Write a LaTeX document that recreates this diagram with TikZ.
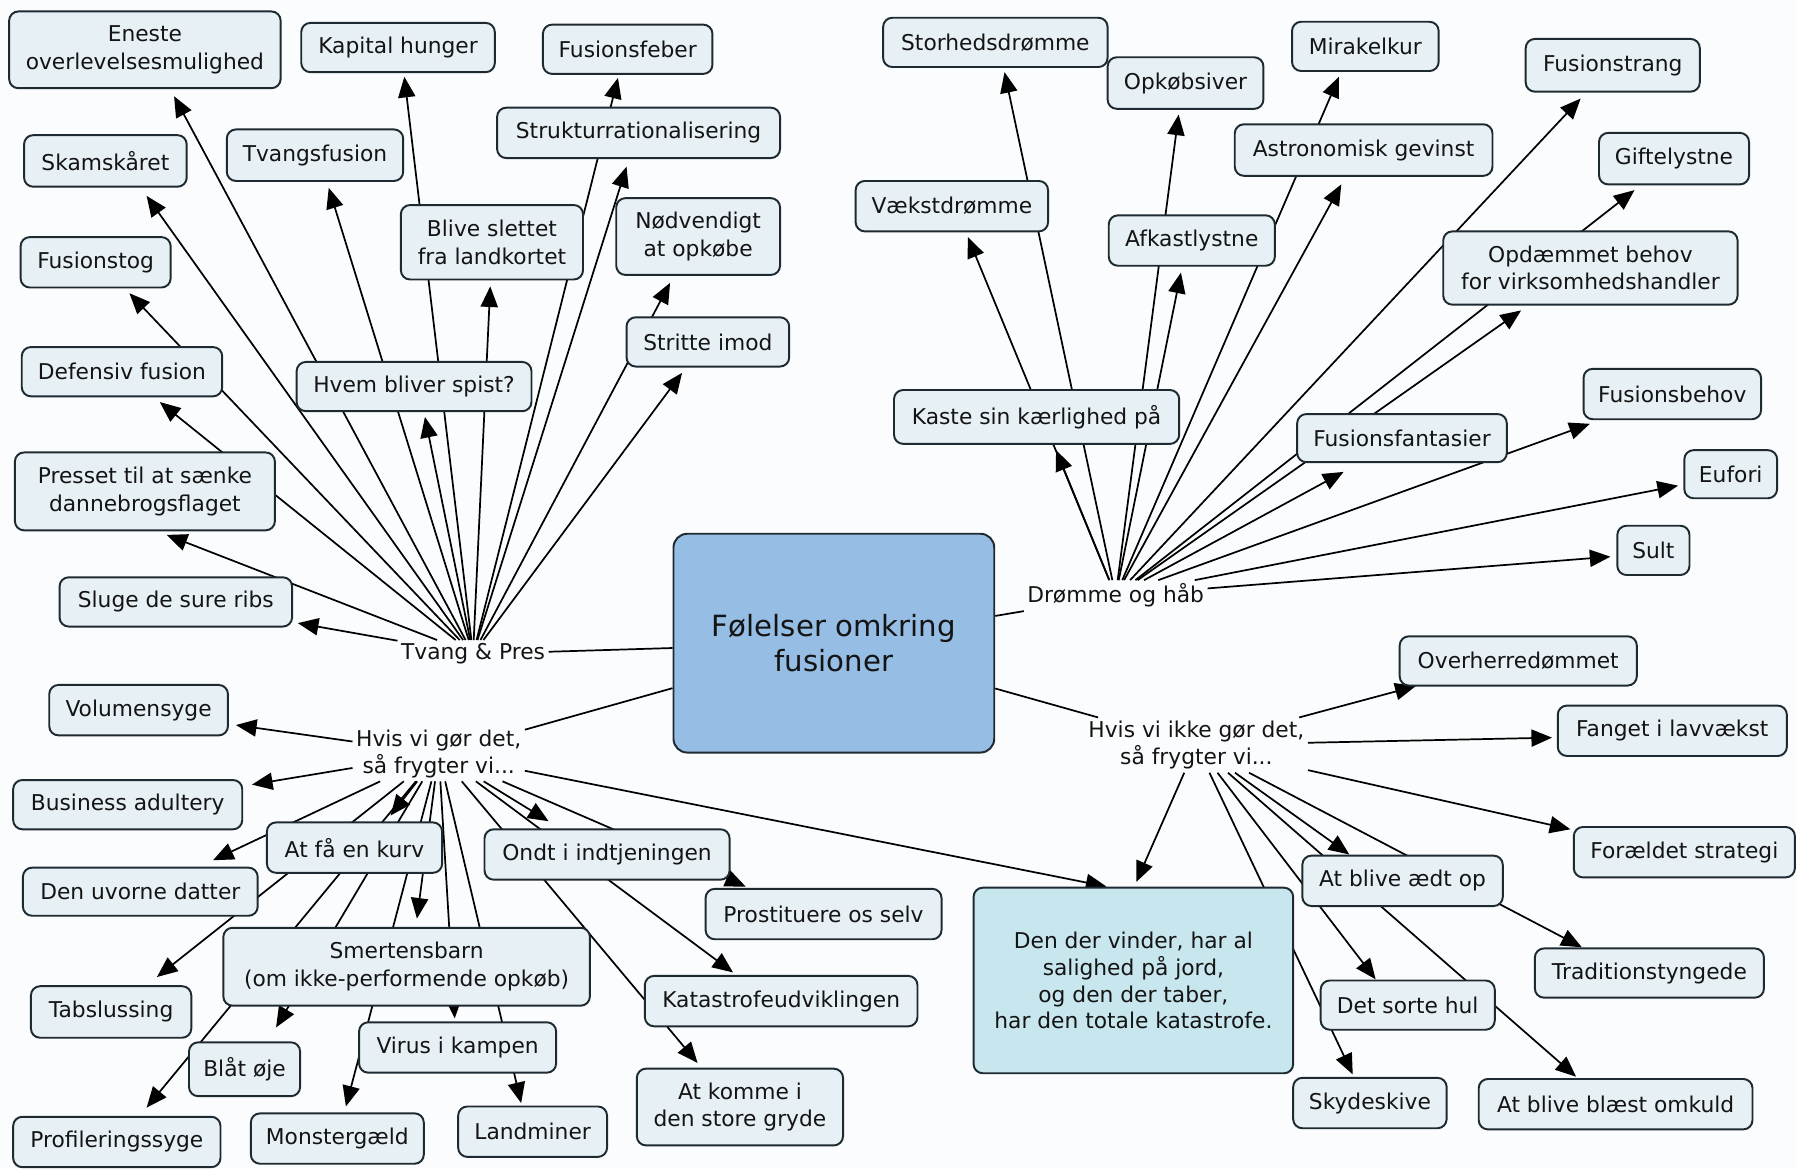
\documentclass[tikz,border=0pt]{standalone}
\usepackage{fontspec}
\setmainfont{DejaVu Sans}
\usetikzlibrary{arrows.meta,calc}
\definecolor{boxfill}{RGB}{231,240,245}
\definecolor{boxline}{RGB}{30,42,50}
\definecolor{centerfill}{RGB}{150,189,228}
\definecolor{ddvfill}{RGB}{199,230,237}
\definecolor{bgcol}{RGB}{251,252,253}
\definecolor{txt}{RGB}{20,20,20}
\pgfdeclarelayer{edgelayer}
\pgfsetlayers{edgelayer,main}
\newcommand\mkbox[6]{\node[concept, minimum width=#4pt, minimum height=#5pt] (#1) at (#2,#3) {#6};}
\newcommand\fanarrow[4]{\draw[arr] (#1) -- ($(#2)+(#3,#4)$);}
\begin{document}
\begin{tikzpicture}[x=1pt,y=-1pt,
  concept/.style={draw=boxline, line width=1.7pt, fill=boxfill, rounded corners=8pt, align=center, text=txt, font=\fontsize{19}{24}\selectfont, inner sep=2pt},
  lbl/.style={align=center, text=txt, font=\fontsize{19}{23.5}\selectfont, inner sep=3pt},
  link/.style={draw=black, line width=1.5pt},
  arr/.style={link, -{Triangle[length=18pt,width=15pt]}},
]
\useasboundingbox (0,0) rectangle (1568,1020);

% central concept
\node[concept, fill=centerfill, rounded corners=12pt, minimum width=280pt, minimum height=191pt, font=\fontsize{25.5}{31}\selectfont] (center) at (728,561.5) {Følelser omkring\\fusioner};

% linking phrases
\node[lbl] (tvang) at (413,571) {Tvang \& Pres};
\node[lbl] (dromme) at (974,520) {Drømme og håb};
\node[lbl] (hvis) at (383,658) {Hvis vi gør det,\\så frygter vi...};
\node[lbl] (ikke) at (1044.5,650.5) {Hvis vi ikke gør det,\\så frygter vi...};

% top-left
\mkbox{eneste}{126.5}{43.5}{237}{67}{Eneste\\overlevelsesmulighed}
\mkbox{kapital}{347.5}{41.5}{169}{43}{Kapital hunger}
\mkbox{ffeber}{548}{43}{148}{43}{Fusionsfeber}
\mkbox{skam}{92}{140.5}{142}{45}{Skamskåret}
\mkbox{tvfus}{275}{135.5}{154}{45}{Tvangsfusion}
\mkbox{struktur}{557.5}{116}{247}{44}{Strukturrationalisering}
\mkbox{blive}{429.5}{211.5}{159}{65}{Blive slettet\\fra landkortet}
\mkbox{nodv}{609.5}{206.5}{143}{67}{Nødvendigt\\at opkøbe}
\mkbox{fstog}{83.5}{229}{131}{44}{Fusionstog}
\mkbox{stritte}{618}{298.5}{142}{43}{Stritte imod}
\mkbox{defensiv}{106.5}{324.5}{175}{43}{Defensiv fusion}
\mkbox{hvem}{361.5}{337.5}{205}{43}{Hvem bliver spist?}
\mkbox{presset}{126.5}{429}{227}{68}{Presset til at sænke\\dannebrogsflaget}
\mkbox{sluge}{153.5}{525.5}{203}{43}{Sluge de sure ribs}

% bottom-left
\mkbox{volumen}{121}{620}{156}{44}{Volumensyge}
\mkbox{business}{111.5}{702.5}{200}{43}{Business adultery}
\mkbox{kurv}{309.5}{740}{153}{44}{At få en kurv}
\mkbox{ondt}{530}{746}{214}{44}{Ondt i indtjeningen}
\mkbox{datter}{122.5}{778.5}{205}{42}{Den uvorne datter}
\mkbox{prostit}{719}{798}{206}{44}{Prostituere os selv}
\mkbox{smertens}{355}{844}{320}{68}{Smertensbarn\\(om ikke-performende opkøb)}
\mkbox{katastrofe}{682}{874}{238}{44}{Katastrofeudviklingen}
\mkbox{tabsl}{97}{883.5}{140}{45}{Tabslussing}
\mkbox{virus}{399.5}{914.5}{172}{44}{Virus i kampen}
\mkbox{blaat}{213.5}{933.5}{97}{47}{Blåt øje}
\mkbox{gryde}{646}{966.5}{180}{67}{At komme i\\den store gryde}
\mkbox{landminer}{465}{988}{130}{44}{Landminer}
\mkbox{monster}{294.5}{994}{151}{44}{Monstergæld}
\mkbox{profil}{102}{997}{181}{44}{Profileringssyge}

% top-right
\mkbox{storheds}{869}{37}{196}{43}{Storhedsdrømme}
\mkbox{opkob}{1035}{72.5}{136}{45}{Opkøbsiver}
\mkbox{mirakel}{1192}{40.5}{128}{43}{Mirakelkur}
\mkbox{fstrang}{1408}{57}{152}{46}{Fusionstrang}
\mkbox{astro}{1190.5}{131}{225}{45}{Astronomisk gevinst}
\mkbox{gifte}{1461.5}{138.5}{131}{45}{Giftelystne}
\mkbox{vaekst}{831}{180}{168}{44}{Vækstdrømme}
\mkbox{afkast}{1040.5}{210}{145}{44}{Afkastlystne}
\mkbox{opdaem}{1388.5}{234}{257}{64}{Opdæmmet behov\\for virksomhedshandler}
\mkbox{kaste}{905}{364}{249}{47}{Kaste sin kærlighed på}
\mkbox{ffant}{1224}{382.5}{183}{42}{Fusionsfantasier}
\mkbox{fbehov}{1460}{344}{155}{44}{Fusionsbehov}
\mkbox{eufori}{1511}{414}{81}{42}{Eufori}
\mkbox{sult}{1443.5}{480.5}{63}{43}{Sult}

% bottom-right
\mkbox{overherre}{1325.5}{577}{207}{43}{Overherredømmet}
\mkbox{fanget}{1460}{638}{200}{44}{Fanget i lavvækst}
\mkbox{foraeldet}{1470.5}{744}{193}{44}{Forældet strategi}
\mkbox{aedt}{1224.5}{769}{175}{44}{At blive ædt op}
\mkbox{tradition}{1440}{849.5}{200}{43}{Traditionstyngede}
\mkbox{sorte}{1229}{877.5}{152}{43}{Det sorte hul}
\mkbox{skyde}{1196}{963}{134}{44}{Skydeskive}
\mkbox{blaest}{1410.5}{964}{239}{44}{At blive blæst omkuld}
\node[concept, fill=ddvfill, minimum width=279pt, minimum height=162pt, font=\fontsize{19}{23.5}\selectfont] (ddv) at (989.5,856) {Den der vinder, har al\\salighed på jord,\\og den der taber,\\har den totale katastrofe.};

\begin{pgfonlayer}{edgelayer}
\fill[bgcol] (0,0) rectangle (1568,1020);
\draw[link] (center) -- (tvang);
\draw[link] (center) -- (dromme);
\draw[link] (center) -- (hvis);
\draw[link] (center) -- (ikke);
% Tvang & Pres
\fanarrow{tvang}{sluge}{106.5}{18.5}
\fanarrow{tvang}{presset}{19}{38}
\fanarrow{tvang}{defensiv}{33}{26.5}
\fanarrow{tvang}{fstog}{29.5}{27}
\fanarrow{tvang}{skam}{36}{30.5}
\fanarrow{tvang}{eneste}{25.5}{40.5}
\fanarrow{tvang}{tvfus}{12}{28.5}
\fanarrow{tvang}{hvem}{9.5}{26.5}
\fanarrow{tvang}{kapital}{5.5}{25.5}
\fanarrow{tvang}{blive}{-1.5}{38.5}
\fanarrow{tvang}{struktur}{-10.5}{29.5}
\fanarrow{tvang}{ffeber}{-8.5}{25}
\fanarrow{tvang}{nodv}{-24.5}{40.5}
\fanarrow{tvang}{stritte}{-22.5}{27}
% Droemme og haab
\fanarrow{dromme}{kaste}{17}{29}
\fanarrow{dromme}{vaekst}{14}{27}
\fanarrow{dromme}{storheds}{8}{26}
\fanarrow{dromme}{afkast}{-9.5}{28}
\fanarrow{dromme}{opkob}{-6}{27.5}
\fanarrow{dromme}{astro}{-19.5}{30}
\fanarrow{dromme}{mirakel}{-23}{26.5}
\fanarrow{dromme}{fstrang}{-28}{29}
\fanarrow{dromme}{gifte}{-34.5}{27.5}
\fanarrow{dromme}{opdaem}{-60.5}{37}
\fanarrow{dromme}{ffant}{-51}{29.5}
\fanarrow{dromme}{fbehov}{-72}{26}
\fanarrow{dromme}{eufori}{-46}{10}
\fanarrow{dromme}{sult}{-37.5}{5.5}
% Hvis vi goer det
\fanarrow{hvis}{volumen}{85}{13}
\fanarrow{hvis}{business}{108.5}{-17.5}
\fanarrow{hvis}{datter}{63.5}{-27.5}
\fanarrow{hvis}{tabsl}{40}{-30.5}
\fanarrow{hvis}{profil}{26}{-30}
\fanarrow{hvis}{blaat}{27.5}{-36.5}
\fanarrow{hvis}{kurv}{31.5}{-28}
\fanarrow{hvis}{monster}{7.5}{-28}
\fanarrow{hvis}{smertens}{9}{-42}
\fanarrow{hvis}{virus}{-2.5}{-25.5}
\fanarrow{hvis}{landminer}{-10}{-25}
\fanarrow{hvis}{ondt}{-51}{-29}
\fanarrow{hvis}{prostit}{-68}{-24}
\fanarrow{hvis}{katastrofe}{-42}{-25}
\fanarrow{hvis}{gryde}{-37}{-38.5}
\fanarrow{hvis}{ddv}{-23.5}{-82}
% Hvis vi ikke goer det
\fanarrow{ikke}{overherre}{-89.5}{22}
\fanarrow{ikke}{fanget}{-105}{6}
\fanarrow{ikke}{foraeldet}{-99.5}{-20}
\fanarrow{ikke}{aedt}{-46.5}{-23}
\fanarrow{ikke}{tradition}{-59}{-22.5}
\fanarrow{ikke}{sorte}{-28}{-22.5}
\fanarrow{ikke}{blaest}{-34.5}{-24}
\fanarrow{ikke}{skyde}{-15}{-25}
\fanarrow{ikke}{ddv}{2.5}{-86}
\end{pgfonlayer}
\end{tikzpicture}
\end{document}
